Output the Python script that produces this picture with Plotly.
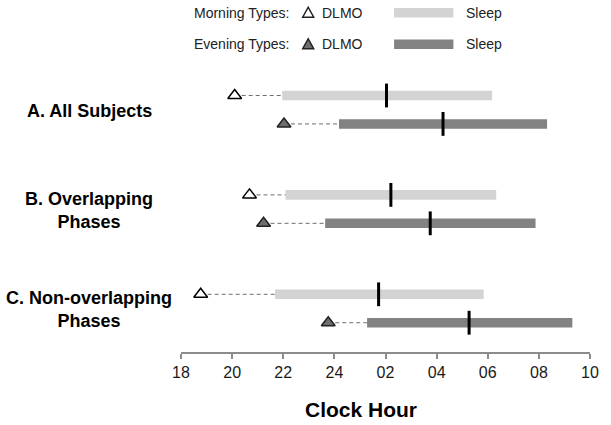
import plotly.graph_objects as go

# Clock hours (values past midnight written as 24+)
groups = ["A. All Subjects", "B. Overlapping<br>Phases", "C. Non-overlapping<br>Phases"]

morning_dlmo = [20.10, 20.68, 18.77]
morning_sleep_on = [21.96, 22.09, 21.68]
morning_sleep_mid = [26.04, 26.21, 25.73]
morning_sleep_off = [30.17, 30.33, 29.84]

evening_dlmo = [22.03, 21.23, 23.76]
evening_sleep_on = [24.18, 23.64, 25.28]
evening_sleep_mid = [28.25, 27.75, 29.27]
evening_sleep_off = [32.32, 31.87, 33.31]

tick_vals = [18, 20, 22, 24, 26, 28, 30, 32, 34]
tick_text = ["18", "20", "22", "24", "02", "04", "06", "08", "10"]

FONT = "Liberation Sans, Arial, sans-serif"
LIGHT = "#d3d3d3"
DARK = "#828282"
TRI_DARK = "#6e6e6e"

ROW_OFF = 0.143
y_morning = [i - ROW_OFF for i in range(len(groups))]
y_evening = [i + ROW_OFF for i in range(len(groups))]


def dashed(dlmo, on, ys):
    xs, yy = [], []
    for a, b, y in zip(dlmo, on, ys):
        xs += [a, b, None]
        yy += [y, y, None]
    return go.Scatter(x=xs, y=yy, mode="lines", showlegend=False, hoverinfo="skip",
                      line=dict(color="#6e6e6e", width=1, dash="4px,3px"))


fig = go.Figure()

fig.add_trace(dashed(morning_dlmo, morning_sleep_on, y_morning))
fig.add_trace(dashed(evening_dlmo, evening_sleep_on, y_evening))

fig.add_trace(go.Bar(
    y=y_morning, base=morning_sleep_on,
    x=[b - a for a, b in zip(morning_sleep_on, morning_sleep_off)],
    orientation="h", width=0.096, marker=dict(color=LIGHT, line=dict(width=0)),
    name="Morning sleep", showlegend=False
))
fig.add_trace(go.Bar(
    y=y_evening, base=evening_sleep_on,
    x=[b - a for a, b in zip(evening_sleep_on, evening_sleep_off)],
    orientation="h", width=0.096, marker=dict(color=DARK, line=dict(width=0)),
    name="Evening sleep", showlegend=False
))

# sleep midpoints
fig.add_trace(go.Scatter(
    x=morning_sleep_mid + evening_sleep_mid, y=y_morning + y_evening,
    mode="markers", showlegend=False,
    marker=dict(symbol="line-ns", size=17, line=dict(width=3, color="black"))
))

# DLMO triangles
fig.add_trace(go.Scatter(
    x=morning_dlmo, y=y_morning, mode="markers", showlegend=False,
    marker=dict(symbol="triangle-up", size=12, color="white", line=dict(width=1.5, color="black"))
))
fig.add_trace(go.Scatter(
    x=evening_dlmo, y=y_evening, mode="markers", showlegend=False,
    marker=dict(symbol="triangle-up", size=12, color=TRI_DARK, line=dict(width=1.5, color="#222"))
))

# row labels
for i, g in enumerate(groups):
    fig.add_annotation(x=-0.224, xref="paper", y=i, yref="y", text=g, showarrow=False,
                       xanchor="center", yanchor="middle", align="center", yshift=-1,
                       font=dict(family=FONT, size=18, color="black", weight="bold"))

# legend drawn by hand
legend_rows = [
    ("Morning Types:", "white", LIGHT, 1.162),
    ("Evening Types:", TRI_DARK, DARK, 1.054),
]
for label, tri_fill, bar_fill, yp in legend_rows:
    fig.add_annotation(x=0.0258, xref="paper", y=yp, yref="paper", text=label, showarrow=False,
                       xanchor="left", yanchor="middle", font=dict(family=FONT, size=14, color="#222"))
    fig.add_annotation(x=0.339, xref="paper", y=yp, yref="paper", text="DLMO", showarrow=False,
                       xanchor="left", yanchor="middle", font=dict(family=FONT, size=14, color="#222"))
    fig.add_annotation(x=0.692, xref="paper", y=yp, yref="paper", text="Sleep", showarrow=False,
                       xanchor="left", yanchor="middle", font=dict(family=FONT, size=14, color="#222"))
    fig.add_shape(type="path", xref="paper", yref="paper", xsizemode="pixel", ysizemode="pixel",
                  xanchor=0.311, yanchor=yp, path="M -5.5,-4.5 L 5.5,-4.5 L 0,5.5 Z",
                  fillcolor=tri_fill, line=dict(color="#222", width=1.5))
    fig.add_shape(type="rect", xref="paper", yref="paper", ysizemode="pixel", yanchor=yp,
                  x0=0.521, x1=0.666, y0=-4.7, y1=4.7, fillcolor=bar_fill, line=dict(width=0))

fig.add_annotation(x=0.441, xref="paper", y=-0.1986, yref="paper", text="Clock Hour", showarrow=False,
                   xanchor="center", yanchor="middle",
                   font=dict(family=FONT, size=21, color="black", weight="bold"))

fig.update_layout(
    width=611, height=425,
    margin=dict(l=181, r=15, t=60, b=73),
    plot_bgcolor="white", paper_bgcolor="white",
    barmode="overlay",
    xaxis=dict(range=[18, 34], tickvals=tick_vals, ticktext=tick_text,
               showline=True, linecolor="#8c8c8c", linewidth=1.5,
               ticks="outside", ticklen=5, tickwidth=1.5, tickcolor="#8c8c8c",
               tickfont=dict(family=FONT, size=16, color="#1a1a1a"),
               showgrid=False, zeroline=False, fixedrange=True),
    yaxis=dict(range=[2.4375, -0.5], visible=False, fixedrange=True),
    font=dict(family=FONT),
)

# drop the default 8px body margin so the figure sits at the window corner
fig.write_html("out.html", config={"displayModeBar": False},
               post_script="document.body.style.margin = '0';")
